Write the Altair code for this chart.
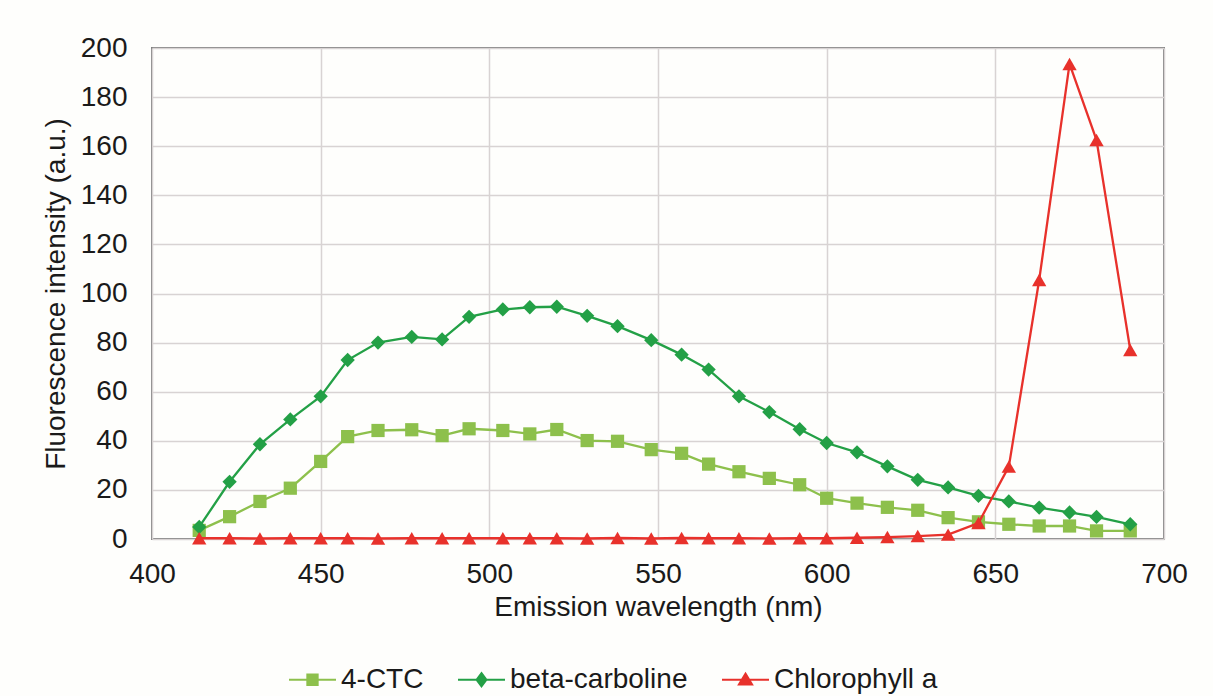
import altair as alt
import pandas as pd

WAVELENGTH = [414, 423, 432, 441, 450, 458, 467, 477, 486, 494, 504, 512, 520, 529, 538, 548,
              557, 565, 574, 583, 592, 600, 609, 618, 627, 636, 645, 654, 663, 672, 680, 690]
CTC = [3.5, 9.1, 15.3, 20.7, 31.6, 41.7, 44.2, 44.5, 42.1, 44.9, 44.2, 42.8, 44.6, 40.1, 39.8, 36.4,
       34.9, 30.5, 27.4, 24.7, 22.1, 16.6, 14.6, 12.9, 11.7, 8.7, 7.0, 6.0, 5.3, 5.3, 3.3, 3.3]
BETA = [4.9, 23.3, 38.6, 48.7, 58.1, 72.9, 80.0, 82.3, 81.3, 90.5, 93.5, 94.4, 94.6, 90.9, 86.7, 81.0,
        75.1, 69.0, 58.1, 51.7, 44.7, 39.1, 35.3, 29.6, 24.1, 21.0, 17.6, 15.3, 12.8, 10.8, 9.0, 6.0]
CHL = [0.3, 0.3, 0.2, 0.3, 0.3, 0.3, 0.2, 0.3, 0.3, 0.3, 0.3, 0.3, 0.3, 0.2, 0.4, 0.2,
       0.4, 0.3, 0.3, 0.2, 0.3, 0.3, 0.5, 0.8, 1.2, 1.8, 6.5, 29.5, 105.5, 193.5, 162.5, 77.0]

SERIES = ["4-CTC", "beta-carboline", "Chlorophyll a"]
COLORS = ["#8DC04C", "#23A046", "#E8312B"]
MARKERS = ["square", "diamond", "triangle-up"]
MARKER_SIZES = [175, 205, 205]
# legend glyphs: a line segment with a marker drawn as a densely hatched shape
LEGEND_SYMBOLS = [
    "M-1,0H1M-0.22,-0.22H0.22V0.22H-0.22Z"
    "M-0.22,-0.165H0.22M-0.22,-0.11H0.22M-0.22,-0.055H0.22"
    "M-0.22,0.055H0.22M-0.22,0.11H0.22M-0.22,0.165H0.22",
    "M-1,0H1M0,-0.28L0.21,0L0,0.28L-0.21,0Z"
    "M-0.16,-0.07H0.16M-0.11,-0.14H0.11M-0.06,-0.21H0.06"
    "M-0.16,0.07H0.16M-0.11,0.14H0.11M-0.06,0.21H0.06",
    "M-1,0H1M0,-0.26L0.28,0.2H-0.28Z"
    "M-0.04,-0.2H0.04M-0.07,-0.15H0.07M-0.1,-0.1H0.1M-0.13,-0.05H0.13"
    "M-0.19,0.05H0.19M-0.22,0.1H0.22M-0.25,0.15H0.25",
]
X_TICKS = [400, 450, 500, 550, 600, 650, 700]
Y_TICKS = [0, 20, 40, 60, 80, 100, 120, 140, 160, 180, 200]

rows = []
for name, vals in zip(SERIES, [CTC, BETA, CHL]):
    for w, v in zip(WAVELENGTH, vals):
        rows.append({"wavelength": w, "value": v, "series": name})
df = pd.DataFrame(rows)

FONT = "Liberation Sans"

x_enc = alt.X("wavelength:Q",
              scale=alt.Scale(domain=[400, 700], nice=False, zero=False),
              axis=alt.Axis(values=X_TICKS, title="Emission wavelength (nm)",
                            labelPadding=21, titlePadding=5, labelFlush=False,
                            labelOverlap=False, ticks=False, domain=False))
y_enc = alt.Y("value:Q",
              scale=alt.Scale(domain=[0, 200], nice=False),
              axis=alt.Axis(values=Y_TICKS, title="Fluorescence intensity (a.u.)",
                            labelPadding=25, titlePadding=10, labelFlush=False,
                            labelOverlap=False, ticks=False, domain=False))

base = alt.Chart(df)

series_layers = []
for name, col, shp, sz in zip(SERIES, COLORS, MARKERS, MARKER_SIZES):
    sub = base.transform_filter(alt.datum.series == name)
    series_layers.append(sub.mark_line(strokeWidth=2.3, color=col).encode(x=x_enc, y=y_enc))
    series_layers.append(
        sub.mark_point(filled=True, shape=shp, size=sz, opacity=1, color=col)
        .encode(x=x_enc, y=y_enc)
    )

leg = alt.Legend(
    title=None, orient="none", legendX=136, legendY=607, direction="horizontal",
    symbolSize=2209, symbolStrokeWidth=2, symbolOpacity=1, columnPadding=30,
    labelOffset=4, labelFont=FONT, labelFontSize=28, labelColor="#1a1a1a",
    labelLimit=400, padding=0,
)
legend_layer = base.mark_point(filled=False, opacity=0, strokeWidth=2).encode(
    x=x_enc, y=y_enc,
    color=alt.Color("series:N", scale=alt.Scale(domain=SERIES, range=COLORS), legend=leg),
    shape=alt.Shape("series:N", scale=alt.Scale(domain=SERIES, range=LEGEND_SYMBOLS), legend=leg),
)

chart = alt.layer(*series_layers, legend_layer).properties(
    width=1012, height=491,
    autosize=alt.AutoSizeParams(type="none"),
    padding={"left": 152, "top": 48, "right": 49, "bottom": 157},
    background="#FEFEFC",
).configure_view(
    stroke="#7f7f7f", strokeWidth=2, fill="#FEFEFC"
).configure_axis(
    labelFont=FONT, titleFont=FONT, labelFontSize=28, titleFontSize=28,
    titleFontWeight="normal", labelColor="#1a1a1a", titleColor="#1a1a1a",
    gridColor="#d8d3d3", gridWidth=1.5,
)

chart.save("out.html", embed_options={"renderer": "svg", "actions": False})
